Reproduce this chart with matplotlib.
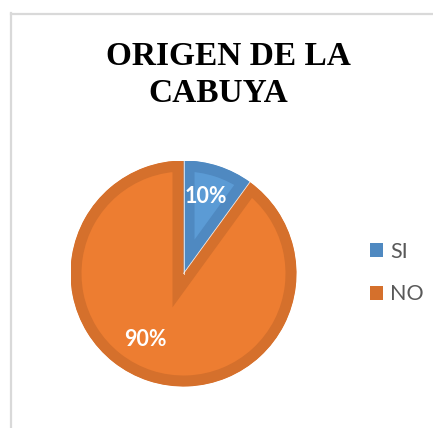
import matplotlib
matplotlib.use("Agg")
import matplotlib.pyplot as plt
from matplotlib.patches import Patch
from matplotlib.lines import Line2D
import numpy as np

categories = ["SI", "NO"]
values = [10, 90]
light_colors = ["#5b9bd5", "#ed7d31"]
dark_colors = ["#4f89c1", "#d5702c"]
title_lines = ["ORIGEN DE LA", "CABUYA"]

W, H = 433, 428
DPI = 100
fig = plt.figure(figsize=(W / DPI, H / DPI), dpi=DPI)

def px(x, y):
    return x / W, 1 - y / H

# chart frame
fig.add_artist(Line2D([11 / W, 11 / W], [0, 1 - 13 / H], color="#d9d9d9", lw=1.6))
fig.add_artist(Line2D([11 / W, 1], [1 - 14 / H, 1 - 14 / H], color="#d9d9d9", lw=1.6))

# title
fig.text(*px(228.5, 65), title_lines[0], ha="center", va="baseline",
         family="Liberation Serif", fontweight="bold", fontsize=24, color="#000000")
fig.text(*px(218.5, 102), title_lines[1], ha="center", va="baseline",
         family="Liberation Serif", fontweight="bold", fontsize=24, color="#000000")

# pie
cx, cy, r = 183.5, 273.5, 113
ax = fig.add_axes([(cx - r) / W, (H - cy - r) / H, 2 * r / W, 2 * r / H])
wedges, texts, autotexts = ax.pie(values, colors=light_colors, startangle=90,
                                  counterclock=False, radius=1,
                                  autopct="%1.0f%%", pctdistance=0.71,
                                  wedgeprops=dict(linewidth=0))
ax.set_xlim(-1, 1)
ax.set_ylim(-1, 1)
ax.axis("off")

bevel_px = 11
for w, dc in zip(wedges, dark_colors):
    w.set_edgecolor(dc)
    w.set_linewidth(2 * bevel_px * 72 / DPI)
    w.set_joinstyle("miter")
    w.set_clip_path(w)
    w.set_clip_on(True)

# thin white separators along slice boundaries
total = sum(values)
angle = 90.0
for v in values:
    a = np.deg2rad(angle)
    ax.plot([0, np.cos(a)], [0, np.sin(a)], color="white", lw=0.6, alpha=0.8,
            clip_on=False)
    angle -= 360.0 * v / total

label_pos = [(0.20, 0.68), (-0.34, -0.58)]
for t, pos in zip(autotexts, label_pos):
    t.set_position(pos)
    t.set_color("white")
    t.set_fontweight("bold")
    t.set_family("Lato")
    t.set_fontsize(15.5)
    t.set_ha("center")
    t.set_va("center")

handles = [Patch(facecolor=c, edgecolor="none") for c in dark_colors]
leg = fig.legend(handles, categories, loc="center left",
                 bbox_to_anchor=px(370, 273),
                 frameon=False, borderaxespad=0, borderpad=0,
                 handlelength=0.62, handleheight=0.62,
                 handletextpad=0.3, labelspacing=1.05,
                 prop=dict(family="Lato", size=15.5))
for t in leg.get_texts():
    t.set_color("#595959")

fig.savefig("out.png", dpi=DPI)
